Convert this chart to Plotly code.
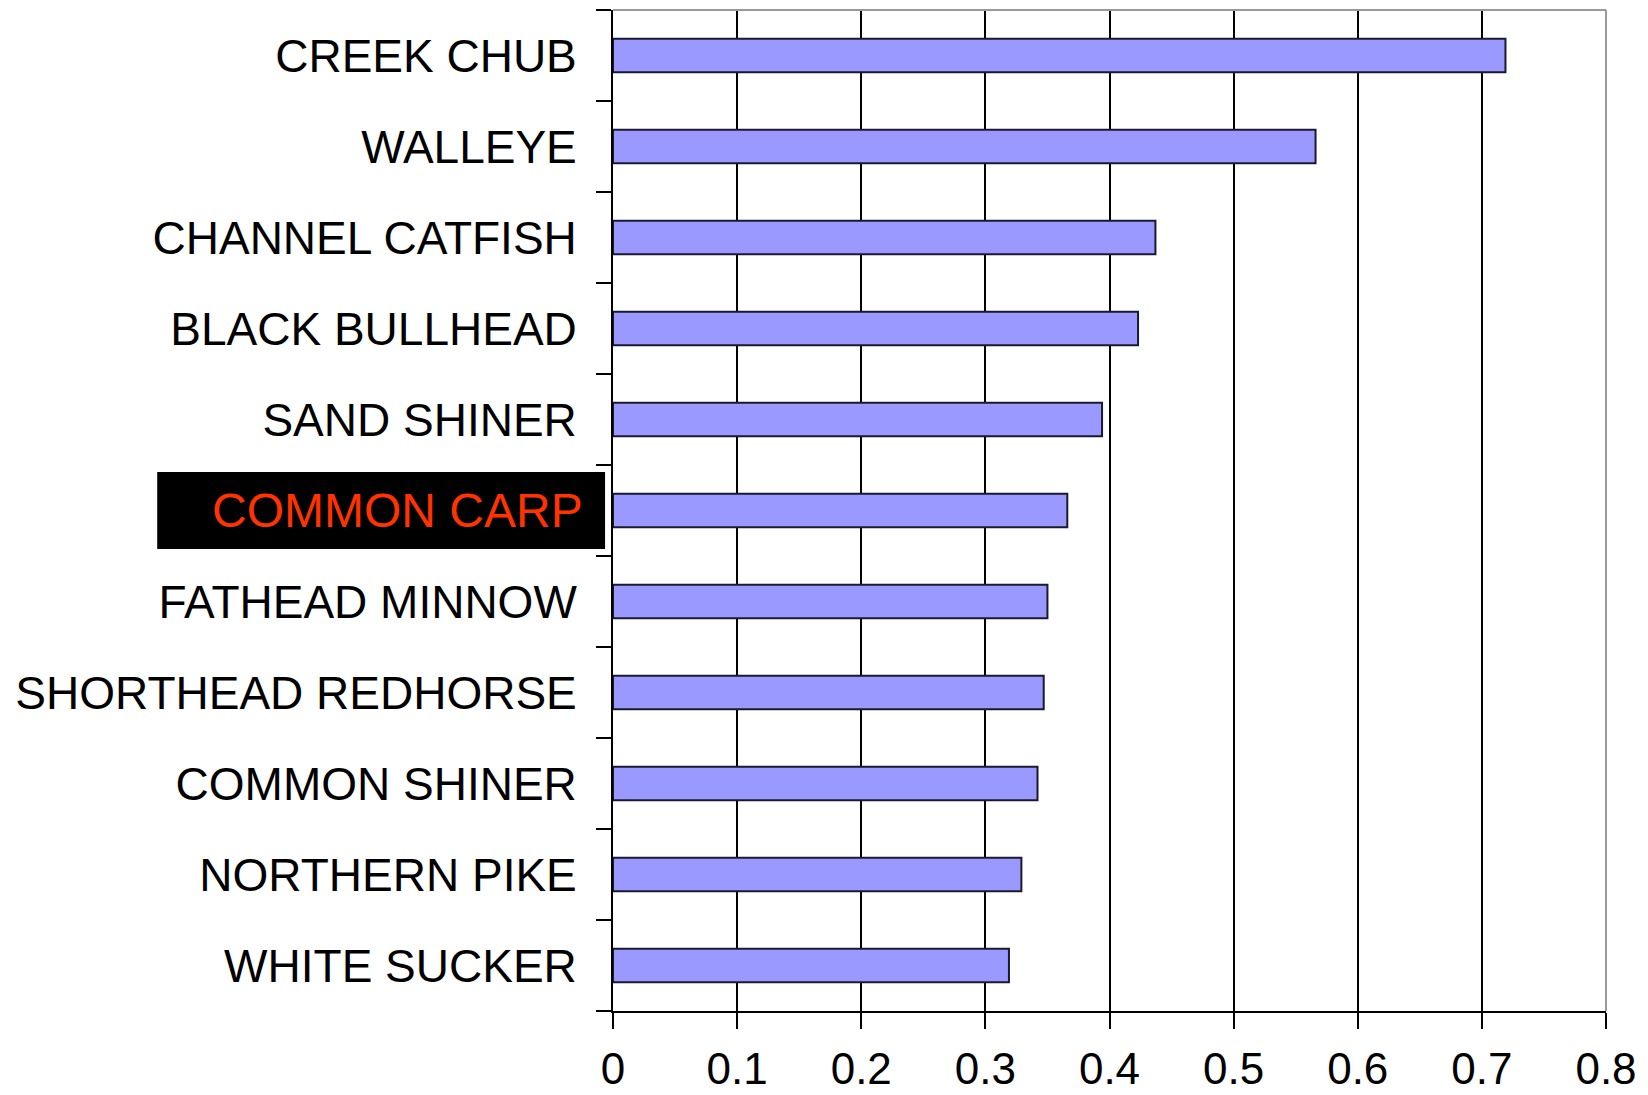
import plotly.graph_objects as go

# Species, listed top to bottom, with their index values
species = [
    "CREEK CHUB", "WALLEYE", "CHANNEL CATFISH", "BLACK BULLHEAD", "SAND SHINER",
    "COMMON CARP", "FATHEAD MINNOW", "SHORTHEAD REDHORSE", "COMMON SHINER",
    "NORTHERN PIKE", "WHITE SUCKER",
]
values = [0.719, 0.566, 0.437, 0.423, 0.394, 0.366, 0.350, 0.347, 0.342, 0.329, 0.319]

# Species called out with its own label box
highlight = "COMMON CARP"

x_tick_vals = [0, 0.1, 0.2, 0.3, 0.4, 0.5, 0.6, 0.7, 0.8]
x_tick_text = ["0", "0.1", "0.2", "0.3", "0.4", "0.5", "0.6", "0.7", "0.8"]

y_tick_text = ["" if s == highlight else s for s in species]
hi_idx = species.index(highlight)

fig = go.Figure(
    go.Bar(
        x=values,
        y=species,
        orientation="h",
        marker=dict(color="#9999FF", line=dict(color="#1a1a2e", width=2)),
    )
)

fig.update_layout(
    width=1648,
    height=1095,
    margin=dict(l=613, r=42, t=10, b=84),
    paper_bgcolor="white",
    plot_bgcolor="white",
    bargap=0.63,
    showlegend=False,
    xaxis=dict(
        range=[0, 0.8],
        automargin=False,
        tickvals=x_tick_vals,
        ticktext=x_tick_text,
        showgrid=True,
        gridcolor="black",
        gridwidth=2,
        zeroline=False,
        showline=True,
        linecolor="black",
        linewidth=2,
        ticks="outside",
        ticklen=16,
        tickwidth=2,
        tickcolor="black",
        ticklabelstandoff=2,
        tickfont=dict(family="Liberation Sans, Arial, sans-serif", size=44, color="black"),
    ),
    yaxis=dict(
        type="category",
        automargin=False,
        categoryorder="array",
        categoryarray=species,
        tickvals=species,
        ticktext=y_tick_text,
        autorange="reversed",
        showgrid=False,
        zeroline=False,
        showline=True,
        linecolor="black",
        linewidth=2,
        ticks="outside",
        tickson="boundaries",
        ticklen=15,
        tickwidth=2,
        tickcolor="black",
        ticklabelstandoff=25,
        tickfont=dict(family="Liberation Sans, Arial, sans-serif", size=46, color="black"),
    ),
)

# Gray frame on the top and right of the plot area
fig.add_shape(type="line", xref="paper", yref="paper", x0=0, x1=1, y0=1, y1=1,
              line=dict(color="#999999", width=2), layer="above")
fig.add_shape(type="line", xref="paper", yref="paper", x0=1, x1=1, y0=0, y1=1,
              line=dict(color="#999999", width=2), layer="above")

# Black label box for the highlighted species
fig.add_shape(type="rect", xref="paper", yref="y",
              x0=-0.459, x1=-0.008, y0=hi_idx - 0.423, y1=hi_idx + 0.423,
              fillcolor="black", line=dict(width=0), layer="above")
fig.add_annotation(
    text=highlight,
    xref="paper", yref="y",
    x=-0.028, y=highlight,
    xanchor="right", yanchor="middle",
    showarrow=False,
    font=dict(family="Liberation Sans, Arial, sans-serif", size=48, color="#FF3300"),
)

fig.write_html("out.html")
